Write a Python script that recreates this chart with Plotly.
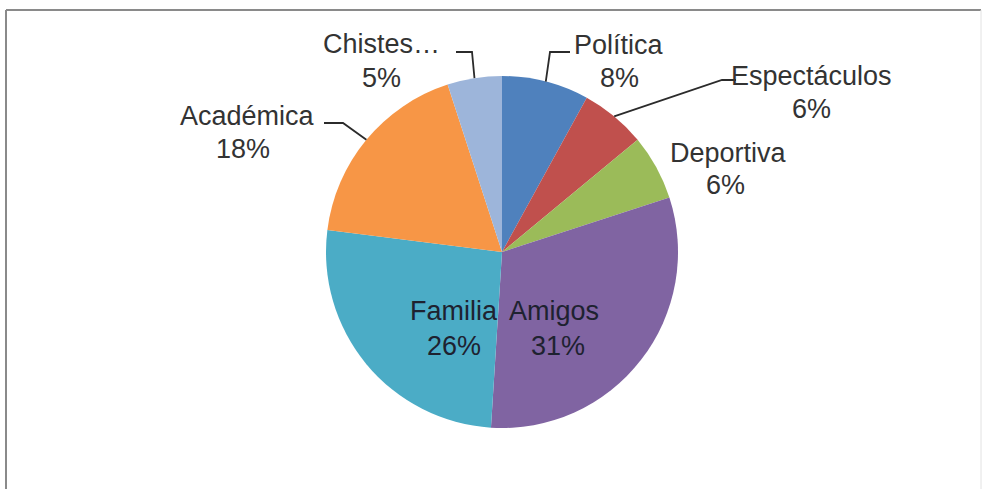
import math
import plotly.graph_objects as go

# Topic shares (percent), clockwise from 12 o'clock
categories = ["Política", "Espectáculos", "Deportiva", "Amigos", "Familia", "Académica", "Chistes…"]
shares = [8, 6, 6, 31, 26, 18, 5]
colors = ["#4F81BD", "#C0504D", "#9BBB59", "#8064A2", "#4BACC6", "#F79646", "#9DB5DA"]

W, H = 986, 489
CX, CY, R = 502, 252, 176          # pie centre and radius in pixels
FONT = "Liberation Sans, Arial, sans-serif"
FS = 27


def px(x):
    return x / W


def py(y):
    return 1 - y / H


# label placement: (name centre, percent centre, leader path start, elbow) in pixels
label_layout = {
    "Política":     ((619, 45), (619, 78), (570, 52), (550, 52)),
    "Espectáculos": ((811, 76), (811, 109), (736, 80), (722, 80)),
    "Deportiva":    ((728, 153), (725, 185), None, None),
    "Amigos":       ((554, 311), (558, 346), None, None),
    "Familia":      ((454, 311), (454, 346), None, None),
    "Académica":    ((247, 116), (243, 149), (324, 123), (343, 123)),
    "Chistes…":     ((381, 44), (381, 78), (456, 52), (472, 52)),
}
inside = {"Amigos", "Familia"}

fig = go.Figure(go.Pie(
    labels=categories,
    values=shares,
    sort=False,
    direction="clockwise",
    rotation=0,
    marker=dict(colors=colors, line=dict(width=0)),
    textinfo="none",
    hoverinfo="label+percent",
    showlegend=False,
    domain=dict(x=[px(CX - R), px(CX + R)], y=[py(CY + R), py(CY - R)]),
))

total = sum(shares)
cum = 0
annotations = []
shapes = []
for name, val in zip(categories, shares):
    mid = (cum + val / 2) / total
    cum += val
    (nx, ny), (vx, vy), start, elbow = label_layout[name]
    color = "#1E2230" if name in inside else "#333333"
    pct = f"{round(100 * val / total)}%"
    for txt, (tx, ty) in ((name, (nx, ny)), (pct, (vx, vy))):
        annotations.append(dict(
            x=px(tx), y=py(ty), xref="paper", yref="paper",
            text=txt, showarrow=False, xanchor="center", yanchor="middle",
            font=dict(family=FONT, size=FS, color=color),
        ))
    if start is not None:
        ang = 2 * math.pi * mid
        ex = CX + R * math.sin(ang)
        ey = CY - R * math.cos(ang)
        path = (f"M {px(start[0])},{py(start[1])} L {px(elbow[0])},{py(elbow[1])} "
                f"L {px(ex)},{py(ey)}")
        shapes.append(dict(type="path", path=path, xref="paper", yref="paper",
                           line=dict(color="#2b2b2b", width=1.8)))

# chart frame
shapes.append(dict(type="line", xref="paper", yref="paper",
                   x0=px(6), y0=py(10), x1=px(981), y1=py(10),
                   line=dict(color="#8a8a8a", width=2)))
shapes.append(dict(type="line", xref="paper", yref="paper",
                   x0=px(6), y0=py(10), x1=px(6), y1=py(489),
                   line=dict(color="#8a8a8a", width=2)))
shapes.append(dict(type="line", xref="paper", yref="paper",
                   x0=px(981), y0=py(10), x1=px(981), y1=py(489),
                   line=dict(color="#e2e2e2", width=1)))

fig.update_layout(
    width=W, height=H,
    margin=dict(l=0, r=0, t=0, b=0),
    paper_bgcolor="white",
    plot_bgcolor="white",
    annotations=annotations,
    shapes=shapes,
)

fig.write_html("out.html")
